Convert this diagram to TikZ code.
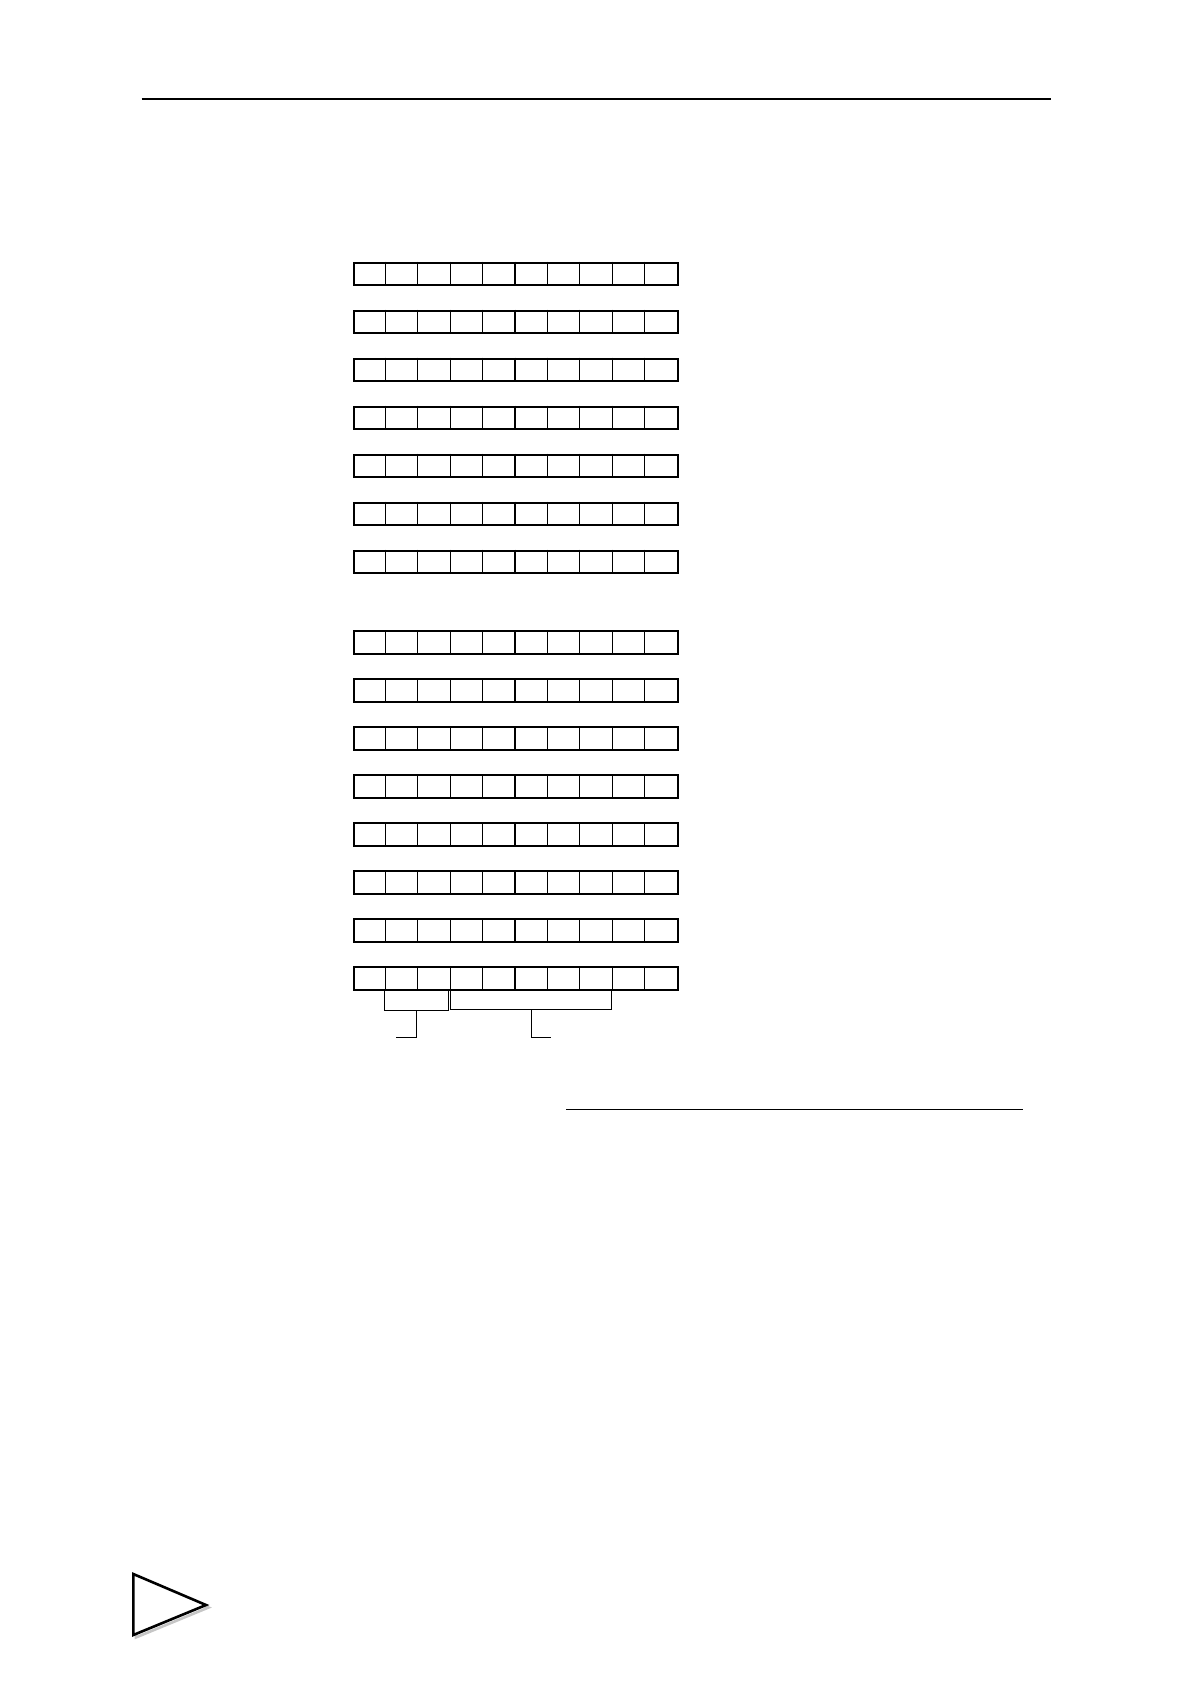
\documentclass[tikz,border=0pt]{standalone}
\usetikzlibrary{positioning}

\begin{document}
\begin{tikzpicture}[x=0.5pt, y=-0.5pt,
        regrow/.style={rectangle, draw, line width=1pt, minimum width=162pt, minimum height=11.3pt, inner sep=0pt, anchor=north west},
        cellline/.style={line width=0.55pt},
        bracket/.style={line width=0.55pt},
        toprule/.style={line width=1.1pt},
        subrule/.style={line width=0.7pt},
        marker/.style={line width=1.3pt, line join=miter}
    ]
    \useasboundingbox (0,0) rectangle (1190,1684);

    % Header rule
    \coordinate (hl) at (141.5,99);
    \coordinate (hr) at (1050.5,99);
    \draw[toprule] (hl) -- (hr);

    % First block of registers
    \foreach \k in {0,...,6} {
        \node[regrow] (a\k) at (353,261.7+48*\k) {};
        \foreach \c in {1,...,9}
            \draw[cellline] ([xshift=\c*16.2pt]a\k.north west) -- ([xshift=\c*16.2pt]a\k.south west);
    }

    % Second block of registers
    \foreach \k in {0,...,7} {
        \node[regrow] (b\k) at (353,630+48*\k) {};
        \foreach \c in {1,...,9}
            \draw[cellline] ([xshift=\c*16.2pt]b\k.north west) -- ([xshift=\c*16.2pt]b\k.south west);
    }

    % Brackets under the last register
    \coordinate (la) at (384.5,991);
    \coordinate (lb) at (448.3,991);
    \coordinate (ls) at (416.5,1010.5);
    \coordinate (le) at (396,1037.3);
    \coordinate (ra) at (450.3,991);
    \coordinate (rb) at (611.7,991);
    \coordinate (rs) at (531.7,1009.3);
    \coordinate (re) at (550.7,1037.3);

    \draw[bracket] (la) -- (la |- ls) -- (lb |- ls) -- (lb);
    \draw[bracket] (ls) |- (le);
    \draw[bracket] (ra) -- (ra |- rs) -- (rb |- rs) -- (rb);
    \draw[bracket] (rs) |- (re);

    % Lower rule
    \coordinate (sl) at (566,1109.3);
    \coordinate (sr) at (1022.7,1109.3);
    \draw[subrule] (sl) -- (sr);

    % Page marker
    \draw[marker, gray!45] (135.8,1576.5) -- (135.8,1637.5) -- (208.5,1607.5) -- cycle;
    \draw[marker, fill=white] (133.3,1574) -- (133.3,1635) -- (206,1605) -- cycle;

\end{tikzpicture}
\end{document}
